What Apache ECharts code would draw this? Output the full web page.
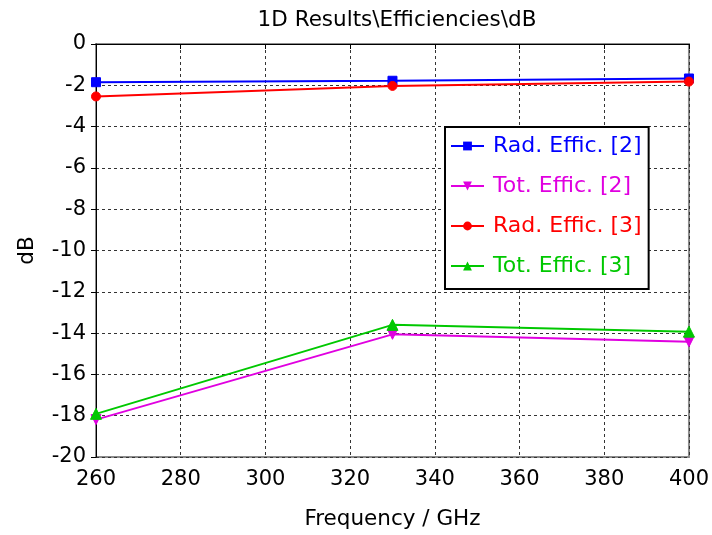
<!DOCTYPE html>
<html>
<head>
<meta charset="utf-8">
<script src="https://cdn.jsdelivr.net/npm/echarts@6/dist/echarts.min.js"></script>
<style>html,body{margin:0;padding:0;background:#fff}#c{width:712px;height:535px}</style>
</head>
<body>
<div id="c"></div>
<script>
const freqs = [260, 330, 400];
const radEff2 = [-1.85, -1.78, -1.67];
const totEff2 = [-18.19, -14.06, -14.42];
const radEff3 = [-2.54, -2.03, -1.82];
const totEff3 = [-17.91, -13.6, -13.93];
const seriesNames = ['Rad. Effic. [2]', 'Tot. Effic. [2]', 'Rad. Effic. [3]', 'Tot. Effic. [3]'];
const xTicks = [260, 280, 300, 320, 340, 360, 380, 400];
const yTicks = [-20, -18, -16, -14, -12, -10, -8, -6, -4, -2, 0];

const FONT = 'DejaVu Sans';
const colors = ['#0000ff', '#e000e0', '#ff0000', '#00c800'];
const symbols = ['rect', 'path://M0,0 L10,0 L5,10 Z', 'circle', 'triangle'];
const sizes = [9, 10, 9, 11];
const vals = [radEff2, totEff2, radEff3, totEff3];

const chart = echarts.init(document.getElementById('c'), null, {renderer: 'canvas'});
const pairs = v => freqs.map((f, i) => [f, v[i]]);

chart.setOption({
  animation: false,
  backgroundColor: '#fff',
  title: {
    text: '1D Results\\Efficiencies\\dB',
    left: 392, top: 4, textAlign: 'center',
    textStyle: {fontFamily: FONT, fontSize: 21.5, fontWeight: 'normal', color: '#000'}
  },
  grid: {left: 96, right: 23, top: 44, bottom: 75, show: true, borderColor: '#8c8c8c', borderWidth: 2},
  legend: {
    orient: 'vertical', left: 445, top: 127,
    backgroundColor: '#fff', borderColor: '#000', borderWidth: 2,
    padding: [8, 7, 12, 5], itemGap: 18, itemWidth: 33, itemHeight: 11,
    textStyle: {fontFamily: FONT, fontSize: 22, padding: [0, 0, 0, 4]},
    data: seriesNames.map((n, i) => ({name: n, textStyle: {color: colors[i]}}))
  },
  xAxis: [{
    type: 'value', min: xTicks[0], max: xTicks[xTicks.length - 1], interval: 20,
    name: 'Frequency / GHz', nameLocation: 'middle', nameGap: 51,
    nameTextStyle: {fontFamily: FONT, fontSize: 21.5, color: '#000'},
    axisLine: {lineStyle: {color: '#000', width: 1}},
    axisTick: {show: true, inside: false, length: 5, lineStyle: {color: '#000'}},
    axisLabel: {fontFamily: FONT, fontSize: 21, color: '#000', margin: 12},
    splitLine: {show: true, lineStyle: {color: '#333', type: [3, 3], width: 1}}
  }, {
    type: 'value', position: 'top', min: xTicks[0], max: xTicks[xTicks.length - 1], interval: 20,
    axisLine: {lineStyle: {color: '#000', width: 1}},
    axisTick: {show: true, inside: true, length: 4, lineStyle: {color: '#000'}},
    axisLabel: {show: false}, splitLine: {show: false}
  }],
  yAxis: [{
    type: 'value', min: yTicks[0], max: yTicks[yTicks.length - 1], interval: 2,
    name: 'dB', nameLocation: 'middle', nameGap: 58, nameRotate: 90,
    nameTextStyle: {fontFamily: FONT, fontSize: 21.5, color: '#000'},
    axisLine: {show: true, lineStyle: {color: '#000', width: 1}},
    axisTick: {show: true, inside: false, length: 5, lineStyle: {color: '#000'}},
    axisLabel: {fontFamily: FONT, fontSize: 21, color: '#000', margin: 10},
    splitLine: {show: true, lineStyle: {color: '#333', type: [3, 3], width: 1}}
  }],
  series: vals.map((v, i) => ({
    name: seriesNames[i], type: 'line', data: pairs(v),
    symbol: symbols[i], symbolSize: sizes[i], showAllSymbol: true,
    lineStyle: {color: colors[i], width: 2},
    itemStyle: {color: colors[i], borderColor: colors[i]},
    z: 3 + i
  }))
});
</script>
</body>
</html>
